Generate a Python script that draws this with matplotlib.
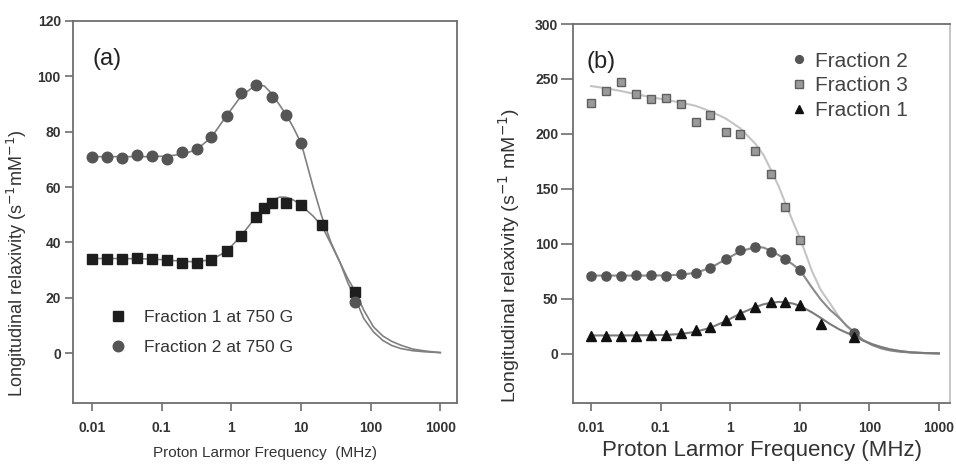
import matplotlib.pyplot as plt

plt.rcParams['font.family'] = ['Liberation Sans', 'DejaVu Sans']

# measured points
freq = [0.01, 0.0164, 0.027, 0.044, 0.072, 0.118, 0.194, 0.318, 0.52, 0.86, 1.4, 2.3, 3.8, 6.2, 10.2, 60]
frac2 = [71.0, 71.0, 70.6, 71.6, 71.2, 70.2, 72.8, 73.7, 78.2, 85.8, 93.9, 96.7, 92.7, 86.1, 76.1, 18.6]

freq_sq = [0.01, 0.0164, 0.027, 0.044, 0.072, 0.118, 0.194, 0.318, 0.52, 0.86, 1.4, 2.3, 3.0, 3.8, 6.2, 10.2, 20, 60]
frac1_750 = [34.0, 34.0, 34.0, 34.5, 34.0, 33.6, 32.7, 32.4, 33.6, 36.9, 42.5, 49.3, 52.3, 54.1, 54.4, 53.5, 46.3, 22.0]

freq_f3 = [0.01, 0.0164, 0.027, 0.044, 0.072, 0.118, 0.194, 0.318, 0.52, 0.86, 1.4, 2.3, 3.8, 6.2, 10.2]
frac3 = [228.5, 239, 247, 236, 231.5, 232.4, 227, 211, 217, 201.5, 199.7, 184.8, 163.3, 133.3, 103.6]

freq_tri = [0.01, 0.0164, 0.027, 0.044, 0.072, 0.118, 0.194, 0.318, 0.52, 0.86, 1.4, 2.3, 3.8, 6.2, 10.2, 20, 60]
frac1 = [15.8, 15.8, 16.4, 16.4, 16.6, 16.9, 18.8, 21.8, 23.9, 30.9, 36.0, 42.4, 46.7, 46.7, 44.2, 27.3, 15.4]

# fitted curves
fit_f = [0.01, 0.0164, 0.027, 0.044, 0.072, 0.118, 0.194, 0.318, 0.52, 0.86, 1.4, 2.3, 3.0, 3.8, 5.0, 6.2,
         8.0, 10.2, 15, 20, 27, 37, 47, 60, 80, 110, 150, 200, 270, 400, 600, 1000]
fit_frac2 = [71.0, 71.0, 71.0, 71.0, 71.0, 71.2, 71.8, 73.5, 78.0, 85.8, 93.0, 97.0, 96.5, 93.8, 89.5, 86.0,
             81.0, 75.5, 60.0, 49.3, 40.0, 32.4, 25.5, 19.8, 12.5, 7.7, 4.6, 2.8, 1.7, 0.9, 0.5, 0.2]
fit_frac1_750 = [34.2, 34.2, 34.2, 34.1, 34.0, 33.7, 33.2, 33.0, 33.8, 36.8, 42.5, 49.5, 53.0, 55.2, 56.4, 56.3,
                 55.2, 53.3, 49.5, 46.0, 39.5, 32.4, 27.0, 22.3, 15.5, 9.5, 6.2, 4.3, 2.9, 1.5, 0.8, 0.2]
fit_frac3 = [243.5, 241.5, 239.0, 236.0, 233.5, 231.0, 228.5, 225.5, 220.5, 214.0, 205.0, 191.0, 181.0, 168.0, 152.0, 137.0,
             120.0, 104.0, 75.0, 58.0, 46.0, 33.0, 25.0, 19.0, 12.5, 8.5, 5.8, 3.8, 2.4, 1.1, 0.5, 0.1]
fit_frac1 = [16.5, 16.5, 16.5, 16.6, 16.7, 17.0, 17.8, 19.8, 23.5, 29.5, 36.5, 42.3, 44.8, 46.2, 47.0, 46.7,
             45.5, 43.3, 37.5, 32.5, 27.0, 22.0, 19.0, 16.3, 12.0, 8.5, 5.8, 3.8, 2.4, 1.1, 0.5, 0.1]

xticks = [0.01, 0.1, 1, 10, 100, 1000]
xticklabels = ['0.01', '0.1', '1', '10', '100', '1000']

fig = plt.figure(figsize=(9.56, 4.65), dpi=100)
ax1 = fig.add_axes([73/956, 62/465, 384/956, 382/465])
ax2 = fig.add_axes([573/956, 62/465, 377/956, 379/465])

spine_c = '#6e6e6e'
for ax in (ax1, ax2):
    ax.set_xscale('log')
    ax.set_xticks(xticks)
    ax.set_xticklabels(xticklabels)
    ax.minorticks_off()
    for s in ax.spines.values():
        s.set_color(spine_c)
        s.set_linewidth(1.3)
    ax.tick_params(axis='x', direction='out', length=5.8, width=1.2, color=spine_c, pad=7,
                   labelsize=10, labelcolor='#333333')
    ax.tick_params(axis='y', direction='out', length=5.8, width=1.2, color=spine_c, pad=3,
                   labelsize=10, labelcolor='#333333')
    for lab in ax.get_xticklabels() + ax.get_yticklabels():
        lab.set_fontweight('bold')

# panel (a)
ax1.plot(fit_f, fit_frac2, color='#808080', lw=1.2, zorder=2)
ax1.plot(fit_f, fit_frac1_750, color='#808080', lw=1.2, zorder=2)
ax1.plot(freq_sq, frac1_750, 's', color='#1e1e1e', ms=6.8, ls='none', zorder=3, label='Fraction 1 at 750 G')
ax1.plot(freq, frac2, 'o', color='#555555', ms=7.6, ls='none', zorder=3, label='Fraction 2 at 750 G')
ax1.set_xlim(10**-2.27, 10**3.24)
ax1.set_ylim(-18, 120)
ax1.set_yticks([0, 20, 40, 60, 80, 100, 120])
for lab in ax1.get_yticklabels():
    lab.set_fontweight('bold')
ax1.set_xlabel('Proton Larmor Frequency  (MHz)', fontsize=11, color='#333333', labelpad=8)
ax1.set_ylabel('Longitudinal relaxivity (s$^{-1}$mM$^{-1}$)', fontsize=13, color='#333333')
ax1.yaxis.set_label_coords(-0.115, 0.366)
ax1.text(0.05, 0.93, '(a)', transform=ax1.transAxes, fontsize=17, color='#222222', va='top', ha='left')
ax1.legend(loc='upper left', bbox_to_anchor=(0.094, 0.243), frameon=False, fontsize=12.5,
           borderpad=0, borderaxespad=0, handlelength=1.0, handletextpad=1.0, labelspacing=0.84,
           labelcolor='#333333')

# panel (b)
ax2.plot(fit_f, fit_frac3, color='#c4c4c4', lw=1.5, zorder=2)
ax2.plot(fit_f, fit_frac2, color='#8a8a8a', lw=1.5, zorder=2)
ax2.plot(fit_f, fit_frac1, color='#7a7a7a', lw=1.5, zorder=2)
ax2.plot(freq, frac2, 'o', color='#555555', ms=6.6, ls='none', zorder=3, label='Fraction 2')
ax2.plot(freq_f3, frac3, 's', mfc='#9a9a9a', mec='#5f5f5f', mew=1.0, ms=6.3, ls='none', zorder=3, label='Fraction 3')
ax2.plot(freq_tri, frac1, '^', color='#111111', ms=7.0, ls='none', zorder=3, label='Fraction 1')
ax2.set_xlim(10**-2.26, 10**3.16)
ax2.set_ylim(-45, 300)
ax2.set_yticks([0, 50, 100, 150, 200, 250, 300])
for lab in ax2.get_yticklabels():
    lab.set_fontweight('bold')
ax2.tick_params(axis='y', length=8.5, pad=2)
ax2.spines['right'].set_color('#c0c0c0')
ax2.set_xlabel('Proton Larmor Frequency (MHz)', fontsize=16, color='#333333', labelpad=4)
ax2.set_ylabel('Longitudinal relaxivity (s$^{-1}$ mM$^{-1}$)', fontsize=14, color='#333333')
ax2.yaxis.set_label_coords(-0.135, 0.39)
ax2.text(0.035, 0.93, '(b)', transform=ax2.transAxes, fontsize=17, color='#222222', va='top', ha='left')
ax2.legend(loc='upper left', bbox_to_anchor=(0.584, 0.927), frameon=False, fontsize=15,
           borderpad=0, borderaxespad=0, handlelength=0.6, handletextpad=0.45, labelspacing=0.27,
           markerscale=0.85, labelcolor='#444444')

fig.savefig('out.png', dpi=100)
